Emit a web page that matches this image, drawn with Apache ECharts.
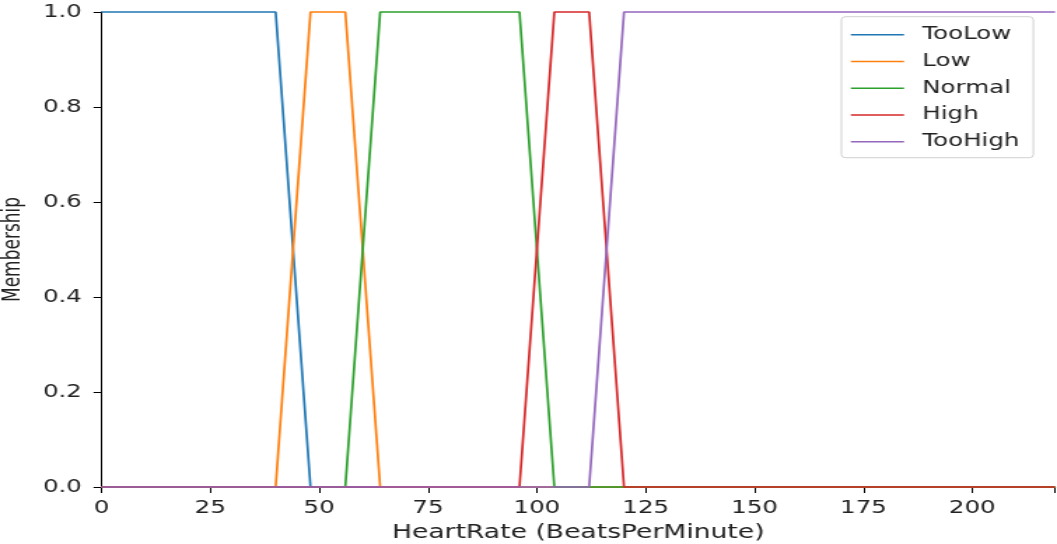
<!DOCTYPE html>
<html>
<head>
<meta charset="utf-8">
<script src="https://cdn.jsdelivr.net/npm/echarts@6/dist/echarts.min.js"></script>
<style>
html,body{margin:0;padding:0;background:#fff;overflow:hidden;}
#chart{width:755px;height:544px;transform:scaleX(1.4);transform-origin:0 0;}
</style>
</head>
<body>
<div id="chart"></div>
<script>
// Membership functions: breakpoints
const seriesNames = ['TooLow', 'Low', 'Normal', 'High', 'TooHigh'];
const tooLowX = [0, 40, 48, 219];
const tooLowY = [1, 1, 0, 0];
const lowX = [0, 40, 48, 56, 64, 219];
const lowY = [0, 0, 1, 1, 0, 0];
const normalX = [0, 56, 64, 96, 104, 219];
const normalY = [0, 0, 1, 1, 0, 0];
const highX = [0, 96, 104, 112, 120, 219];
const highY = [0, 0, 1, 1, 0, 0];
const tooHighX = [0, 112, 120, 219];
const tooHighY = [0, 0, 1, 1];
const xTicks = [0, 25, 50, 75, 100, 125, 150, 175, 200];
const yTicks = [0.0, 0.2, 0.4, 0.6, 0.8, 1.0];
const colors = ['#1f77b4', '#ff7f0e', '#2ca02c', '#d62728', '#9467bd'];

const xs = [tooLowX, lowX, normalX, highX, tooHighX];
const ys = [tooLowY, lowY, normalY, highY, tooHighY];
const font = 'DejaVu Sans';

const chart = echarts.init(document.getElementById('chart'));
chart.setOption({
  animation: false,
  color: colors,
  grid: {left: 72.5, right: 1.4, top: 12, bottom: 57, containLabel: false, outerBoundsMode: 'none'},
  legend: {
    left: 601, top: 16.7,
    orient: 'vertical',
    data: seriesNames,
    itemWidth: 38, itemHeight: 20, itemGap: 6.75,
    padding: [8, 10, 6, 6],
    borderColor: '#d0d0d0', borderWidth: 1, borderRadius: 3,
    backgroundColor: 'rgba(255,255,255,0.85)',
    itemStyle: {opacity: 0},
    lineStyle: {width: 1.5},
    textStyle: {fontFamily: font, fontSize: 17.5, color: '#222', lineHeight: 20, padding: [0, 0, 0, 8]}
  },
  xAxis: {
    type: 'value', min: 0, max: 219, interval: 25,
    name: 'HeartRate (BeatsPerMinute)', nameLocation: 'middle', nameGap: 37,
    nameTextStyle: {fontFamily: font, fontSize: 19, color: '#222'},
    axisLine: {show: true, lineStyle: {color: '#000', width: 1.2}},
    axisTick: {show: true, length: 6, lineStyle: {color: '#000', width: 1}},
    axisLabel: {fontFamily: font, fontSize: 17.5, color: '#222', margin: 12,
      customValues: xTicks, formatter: v => String(v)},
    splitLine: {show: false}
  },
  yAxis: {
    type: 'value', min: 0, max: 1, interval: 0.2,
    name: 'Membership', nameLocation: 'middle', nameGap: 54,
    nameTextStyle: {fontFamily: font, fontSize: 17, color: '#222'},
    axisLine: {show: true, lineStyle: {color: '#000', width: 1}},
    axisTick: {show: true, length: 5.7, lineStyle: {color: '#000', width: 1}},
    axisLabel: {fontFamily: font, fontSize: 17.5, color: '#222', margin: 14,
      customValues: yTicks, formatter: v => v.toFixed(1)},
    splitLine: {show: false}
  },
  series: seriesNames.map((n, i) => ({
    name: n, type: 'line', showSymbol: false, symbol: 'none', clip: false,
    lineStyle: {width: 1.7, color: colors[i]},
    itemStyle: {color: colors[i]},
    data: xs[i].map((x, j) => [x, ys[i][j]])
  }))
});
</script>
</body>
</html>
